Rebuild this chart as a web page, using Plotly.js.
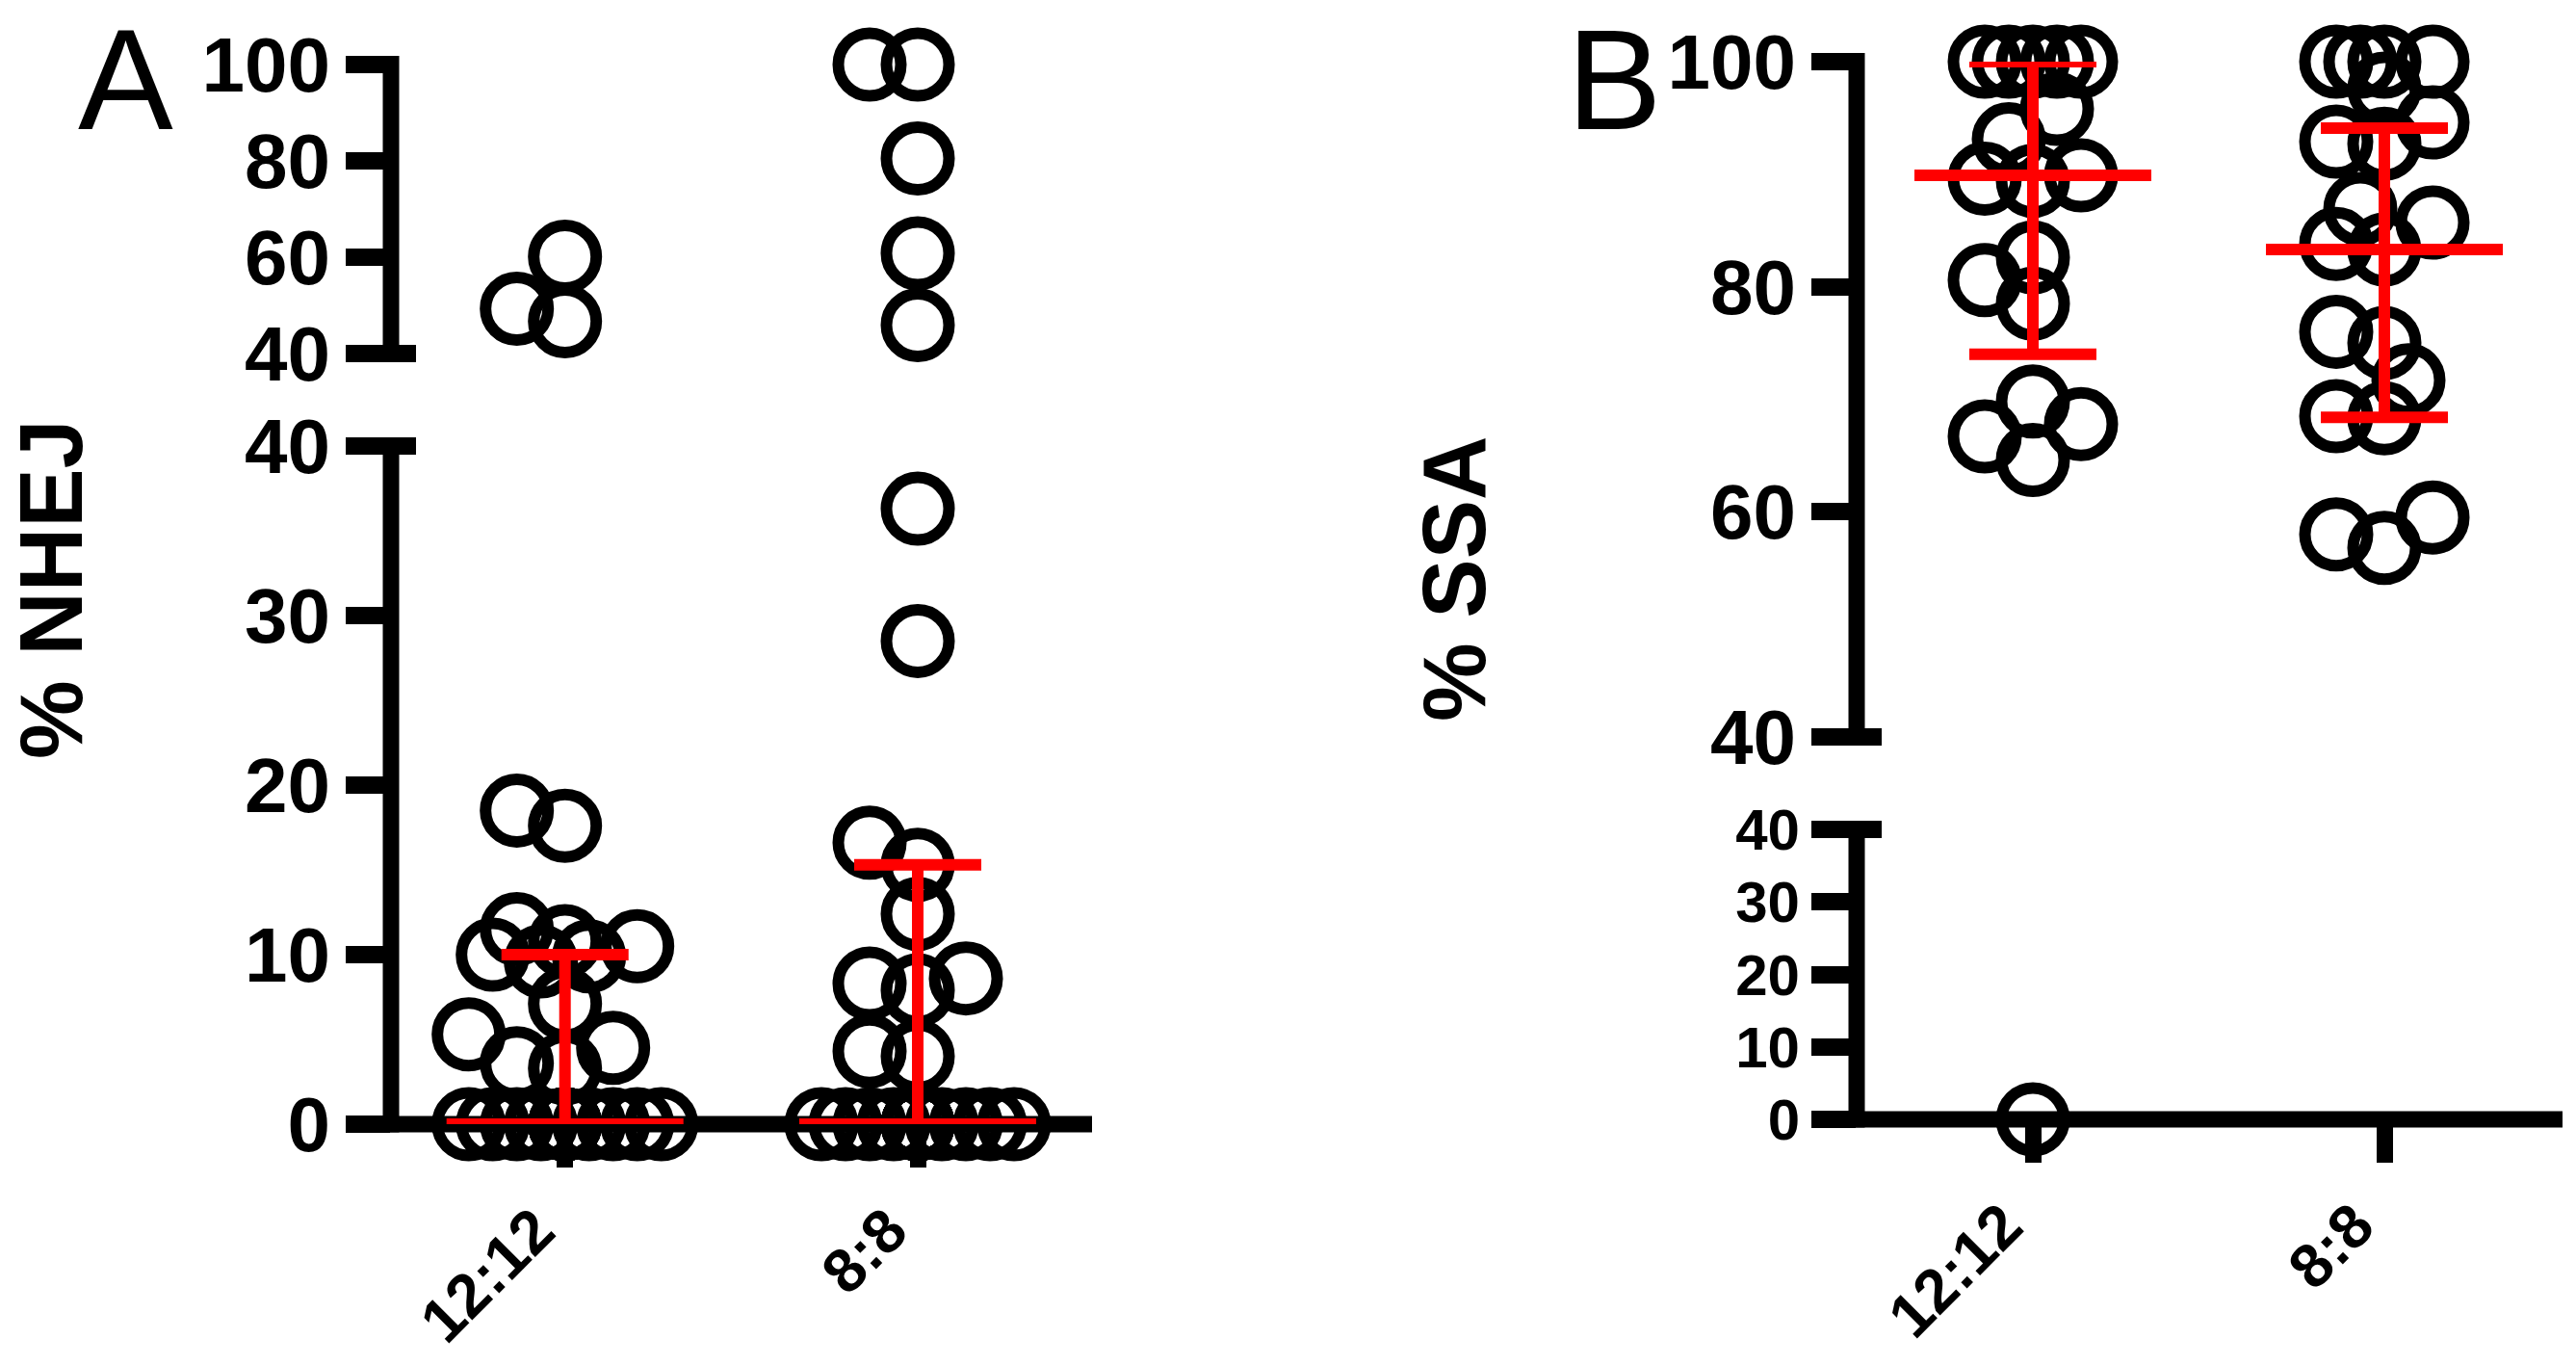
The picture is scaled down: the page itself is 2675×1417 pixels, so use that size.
<!DOCTYPE html>
<html>
<head>
<meta charset="utf-8">
<script src="https://cdn.plot.ly/plotly-3.0.1.min.js"></script>
<style>html,body{margin:0;padding:0;background:#fff;}#chart{width:2675px;height:1417px;}</style>
</head>
<body>
<div id="chart"></div>
<script>
// ---------------- data ----------------
const categories = ['12:12', '8:8'];

// Panel A: % NHEJ
const nhej_12_12 = [49.3, 60.1, 46.7, 18.5, 17.6, 11.5, 10.8, 10.5, 10.0, 9.9, 9.6, 7.1, 5.3, 4.5, 3.6, 3.3,
                    0, 0, 0, 0, 0, 0, 0, 0, 0, 0, 0, 0, 0, 0, 0, 0, 0];
const nhej_8_8   = [100, 100, 80.5, 60.8, 45.9, 36.3, 28.5, 16.6, 15.3, 12.4, 8.6, 8.3, 7.9, 4.3, 4.0,
                    0, 0, 0, 0, 0, 0, 0, 0, 0, 0, 0, 0, 0, 0, 0, 0];
const nhejMedian = [0, 0];
const nhejQ1     = [0, 0];
const nhejQ3     = [10.0, 15.3];

// Panel B: % SSA
const ssa_12_12 = [100, 100, 100, 100, 100, 95.8, 93.1, 89.9, 89.6, 89.4, 82.6, 80.6, 78.5, 69.8, 67.8, 66.7, 64.6, 0];
const ssa_8_8   = [100, 100, 100, 100, 97.6, 94.6, 92.9, 92.7, 86.9, 85.7, 83.8, 83.3, 76.0, 75.0, 71.7, 68.5, 68.3, 59.5, 58.0, 56.8];
const ssaMedian = [89.9, 83.3];
const ssaQ1     = [74.0, 68.4];
const ssaQ3     = [100, 94.1];

const ticksUpper = [40, 60, 80, 100];
const ticksLower = [0, 10, 20, 30, 40];
const ticksUpperText = ['40', '60', '80', '100'];
const ticksLowerText = ['0', '10', '20', '30', '40'];

// ---------------- layout geometry (pixels) ----------------
const W = 2675, H = 1417;
const FONT = 'Liberation Sans, Arial, sans-serif';
const geo = {
  A: { xLine: 406, xEnd: 1134, c0: 586.7, c1: 953,
       lowBot: 1167, lowTop: 463, upBot: 367, upTop: 67, spread: 100 },
  B: { xLine: 1928, xEnd: 2661, c0: 2111, c1: 2476,
       lowBot: 1162, lowTop: 861, upBot: 765, upTop: 64, spread: 50 }
};
function xRange(g) { const u = g.c1 - g.c0; return [(g.xLine - g.c0) / u, (g.xEnd - g.c0) / u]; }
function xDom(g) { return [g.xLine / W, g.xEnd / W]; }
function yDom(bot, top) { return [1 - bot / H, 1 - top / H]; }
function py2paper(p) { return 1 - p / H; }
function px2paper(p) { return p / W; }
// screen y for a value on a broken axis (used only for the swarm spacing)
function yPx(g, v) {
  if (v >= 40) return g.upBot - (v - 40) * (g.upBot - g.upTop) / 60;
  return g.lowBot - v * (g.lowBot - g.lowTop) / 40;
}

// beeswarm offsets computed from the values
function swarm(values, g, catIndex) {
  const unit = g.c1 - g.c0;
  const step = 25, T = 45, maxOff = g.spread;
  const cands = [0];
  for (let k = 1; k * step <= maxOff + 1e-9; k++) cands.push(-k * step, k * step);
  const order = values.map((v, i) => i).sort((a, b) => values[a] - values[b]);
  const placed = [];
  const xs = new Array(values.length);
  for (const i of order) {
    const py = yPx(g, values[i]);
    let best = 0, bestScore = -1;
    for (const c of cands) {
      let minD = Infinity;
      for (const p of placed) { const d = Math.hypot(p.x - c, p.y - py); if (d < minD) minD = d; }
      if (minD >= T) { best = c; break; }
      if (minD > bestScore + 1e-9) { bestScore = minD; best = c; }
    }
    placed.push({ x: best, y: py });
    xs[i] = catIndex + best / unit;
  }
  return xs;
}

const traces = [];
function addPoints(values, g, catIndex, xa, yLow, yUp) {
  const xs = swarm(values, g, catIndex);
  const lo = { x: [], y: [] }, up = { x: [], y: [] };
  values.forEach((v, i) => { const t = v >= 40 ? up : lo; t.x.push(xs[i]); t.y.push(v); });
  const mk = { symbol: 'circle-open', size: 65, color: '#000', line: { width: 12, color: '#000' } };
  traces.push({ type: 'scatter', mode: 'markers', x: lo.x, y: lo.y, xaxis: xa, yaxis: yLow, marker: mk, cliponaxis: false, hoverinfo: 'skip' });
  traces.push({ type: 'scatter', mode: 'markers', x: up.x, y: up.y, xaxis: xa, yaxis: yUp, marker: mk, cliponaxis: false, hoverinfo: 'skip' });
}
addPoints(nhej_12_12, geo.A, 0, 'x', 'y', 'y2');
addPoints(nhej_8_8, geo.A, 1, 'x', 'y', 'y2');
addPoints(ssa_12_12, geo.B, 0, 'x2', 'y3', 'y4');
addPoints(ssa_8_8, geo.B, 1, 'x2', 'y3', 'y4');

const RED = '#ff0000';
function addStats(med, q1, q3, g, xa, ya) {
  const half = 123 / (g.c1 - g.c0);
  const mx = [], my = [];
  med.forEach((m, i) => { mx.push(i - half, i + half, null); my.push(m, m, null); });
  traces.push({ type: 'scatter', mode: 'markers', x: [0, 1], y: med, xaxis: xa, yaxis: ya,
    marker: { size: 1, color: 'rgba(0,0,0,0)' }, cliponaxis: false, hoverinfo: 'skip',
    error_y: { type: 'data', symmetric: false, array: q3.map((v, i) => v - med[i]),
               arrayminus: q1.map((v, i) => med[i] - v), color: RED, thickness: 12, width: 66 } });
  traces.push({ type: 'scatter', mode: 'lines', x: mx, y: my, xaxis: xa, yaxis: ya,
    line: { color: RED, width: 12 }, cliponaxis: false, hoverinfo: 'skip' });
}
addStats(nhejMedian, nhejQ1, nhejQ3, geo.A, 'x', 'y');
addStats(ssaMedian, ssaQ1, ssaQ3, geo.B, 'x2', 'y4');

// ---------------- axes ----------------
function tickFont(size) { return { family: FONT, size: size, color: '#000', weight: 'bold' }; }
function yAxis(dom, rng, vals, txt, anchor, fsize) {
  return { domain: dom, range: rng, anchor: anchor, tickmode: 'array', tickvals: vals, ticktext: txt,
    ticks: 'outside', ticklen: 46, tickwidth: 18, tickcolor: '#000', showline: false, showgrid: false,
    zeroline: false, tickfont: tickFont(fsize), fixedrange: true };
}
function xAxis(g, anchor) {
  return { domain: xDom(g), range: xRange(g), anchor: anchor, tickmode: 'array', tickvals: [0, 1], ticktext: categories,
    ticks: 'outside', ticklen: 44, tickwidth: 17, tickcolor: '#000', showline: false, showgrid: false,
    zeroline: false, tickangle: -45, ticklabelstandoff: 2, ticklabelshift: -30, tickfont: tickFont(64), fixedrange: true };
}

// axis lines (shapes in paper coordinates built from the axis geometry)
const LW = 17;
function axisShapes(g) {
  const s = [];
  const line = { color: '#000', width: LW };
  const xl = px2paper(g.xLine);
  s.push({ type: 'line', layer: 'below', xref: 'paper', yref: 'paper',
           x0: px2paper(g.xLine - LW / 2), x1: px2paper(g.xEnd), y0: py2paper(g.lowBot), y1: py2paper(g.lowBot), line: line });
  s.push({ type: 'line', layer: 'below', xref: 'paper', yref: 'paper', x0: xl, x1: xl,
           y0: py2paper(g.lowBot + LW / 2), y1: py2paper(g.lowTop - 9), line: line });
  s.push({ type: 'line', layer: 'below', xref: 'paper', yref: 'paper', x0: xl, x1: xl,
           y0: py2paper(g.upBot + 9), y1: py2paper(g.upTop - 9), line: line });
  [g.upBot, g.lowTop].forEach(p => s.push({ type: 'line', layer: 'below', xref: 'paper', yref: 'paper',
           x0: xl, x1: px2paper(g.xLine + 26), y0: py2paper(p), y1: py2paper(p), line: { color: '#000', width: 18 } }));
  return s;
}

const layout = {
  width: W, height: H,
  margin: { l: 0, r: 0, t: 0, b: 0, pad: 0 },
  paper_bgcolor: '#fff', plot_bgcolor: 'rgba(0,0,0,0)',
  showlegend: false,
  xaxis: xAxis(geo.A, 'y'),
  xaxis2: xAxis(geo.B, 'y3'),
  yaxis: yAxis(yDom(geo.A.lowBot, geo.A.lowTop), [0, 40], ticksLower, ticksLowerText, 'x', 80),
  yaxis2: yAxis(yDom(geo.A.upBot, geo.A.upTop), [40, 100], ticksUpper, ticksUpperText, 'x', 80),
  yaxis3: yAxis(yDom(geo.B.lowBot, geo.B.lowTop), [0, 40], ticksLower, ticksLowerText, 'x2', 60),
  yaxis4: yAxis(yDom(geo.B.upBot, geo.B.upTop), [40, 100], ticksUpper, ticksUpperText, 'x2', 80),
  shapes: axisShapes(geo.A).concat(axisShapes(geo.B)),
  annotations: [
    { text: 'A', xref: 'paper', yref: 'paper', x: 130 / W, y: 1 - 82 / H, showarrow: false,
      xanchor: 'center', yanchor: 'middle', font: { family: FONT, size: 148, color: '#000' } },
    { text: 'B', xref: 'paper', yref: 'paper', x: 1676 / W, y: 1 - 82 / H, showarrow: false,
      xanchor: 'center', yanchor: 'middle', font: { family: FONT, size: 148, color: '#000' } },
    { text: '% NHEJ', xref: 'paper', yref: 'paper', x: 53 / W, y: 1 - 612 / H, showarrow: false, textangle: -90,
      xanchor: 'center', yanchor: 'middle', font: { family: FONT, size: 92, color: '#000', weight: 'bold' } },
    { text: '% SSA', xref: 'paper', yref: 'paper', x: 1510 / W, y: 1 - 601 / H, showarrow: false, textangle: -90,
      xanchor: 'center', yanchor: 'middle', font: { family: FONT, size: 92, color: '#000', weight: 'bold' } }
  ]
};

Plotly.newPlot('chart', traces, layout, { displayModeBar: false, staticPlot: true });
</script>
</body>
</html>
